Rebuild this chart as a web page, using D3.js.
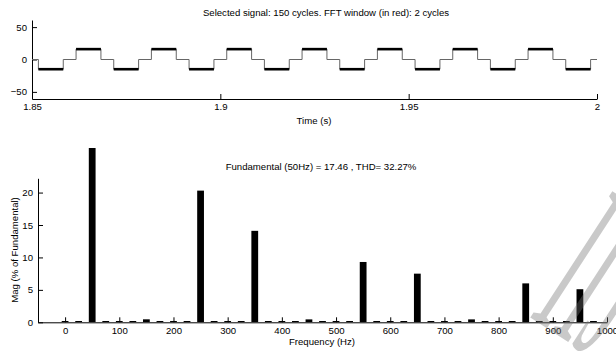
<!DOCTYPE html>
<html>
<head>
<meta charset="utf-8">
<script src="https://cdn.jsdelivr.net/npm/d3@7"></script>
<style>
html, body { margin: 0; padding: 0; background: #fff; }
svg { display: block; font-family: 'Liberation Sans', Arial, sans-serif; }
</style>
</head>
<body>
<div id="chart"></div>
<script>
// selected signal: time of each step (s) and the level held after it
const sigTimes = [
    1.85, 1.8517, 1.8583, 1.8617, 1.8683,
    1.8717, 1.8783, 1.8817, 1.8883,
    1.8917, 1.8983, 1.9017, 1.9083,
    1.9117, 1.9183, 1.9217, 1.9283,
    1.9317, 1.9383, 1.9417, 1.9483,
    1.9517, 1.9583, 1.9617, 1.9683,
    1.9717, 1.9783, 1.9817, 1.9883,
    1.9917, 1.9983, 2.0
];
const sigLevels = [
    0, -15, 0, 16, 0,
    -15, 0, 16, 0,
    -15, 0, 16, 0,
    -15, 0, 16, 0,
    -15, 0, 16, 0,
    -15, 0, 16, 0,
    -15, 0, 16, 0,
    -15, 0, 0
];
const timeTicks = [1.85, 1.9, 1.95, 2];
const sigTicks = [-50, 0, 50];

// FFT bins (Hz) and magnitude (% of fundamental)
const freqs = [
    0, 25, 50, 75, 100, 125, 150, 175, 200, 225,
    250, 275, 300, 325, 350, 375, 400, 425, 450, 475,
    500, 525, 550, 575, 600, 625, 650, 675, 700, 725,
    750, 775, 800, 825, 850, 875, 900, 925, 950, 975
];
const mags = [
    0.2, 0.2, 100, 0.2, 0.2, 0.2, 0.46, 0.2, 0.2, 0.2,
    20.3, 0.2, 0.2, 0.2, 14.1, 0.2, 0.2, 0.2, 0.45, 0.2,
    0.2, 0.2, 9.3, 0.2, 0.2, 0.2, 7.5, 0.2, 0.2, 0.2,
    0.45, 0.2, 0.2, 0.2, 6.0, 0.2, 0.2, 0.2, 5.1, 0.2
];
const freqTicks = [0, 100, 200, 300, 400, 500, 600, 700, 800, 900, 1000];
const magTicks = [0, 5, 10, 15, 20];

const W = 616, H = 351;
const fs = '9.6px';

const svg = d3.select('#chart').append('svg')
    .attr('width', W)
    .attr('height', H);

function styleAxis(g) {
    g.selectAll('path, line').attr('stroke', '#000');
    g.selectAll('text').attr('fill', '#000').style('font-size', fs);
    g.attr('font-family', null);
}

// ---- top: time signal ----
const x1 = d3.scaleLinear().domain([1.85, 2]).range([32, 597]);
const y1 = d3.scaleLinear().domain([-61, 61]).range([99, 20]);

svg.append('g')
    .attr('transform', 'translate(0,' + y1.range()[0] + ')')
    .call(d3.axisBottom(x1).tickValues(timeTicks).tickFormat(d3.format('')).tickSize(-5).tickSizeOuter(0).tickPadding(4))
    .call(styleAxis);

svg.append('g')
    .attr('transform', 'translate(' + x1.range()[0] + ',0)')
    .call(d3.axisLeft(y1).tickValues(sigTicks).tickSize(-5).tickSizeOuter(0).tickPadding(5))
    .call(styleAxis);

const sig = sigTimes.map((t, i) => ({ t: t, v: sigLevels[i] }));

svg.append('path')
    .datum(sig)
    .attr('fill', 'none')
    .attr('stroke', '#666')
    .attr('stroke-width', 1)
    .attr('d', d3.line().x(d => x1(d.t)).y(d => y1(d.v)).curve(d3.curveStepAfter));

// plateaus carry ripple, they show up as a heavy black band
const plateaus = sig.slice(0, -1).map((d, i) => ({ t0: d.t, t1: sig[i + 1].t, v: d.v }))
    .filter(d => d.v !== 0);
svg.append('g').selectAll('line')
    .data(plateaus)
    .enter()
    .append('line')
    .attr('x1', d => x1(d.t0))
    .attr('x2', d => x1(d.t1))
    .attr('y1', d => y1(d.v))
    .attr('y2', d => y1(d.v))
    .attr('stroke', '#000')
    .attr('stroke-width', 2.6);

svg.append('text')
    .attr('x', 326)
    .attr('y', 16)
    .attr('text-anchor', 'middle')
    .style('font-size', fs)
    .text('Selected signal: 150 cycles. FFT window (in red): 2 cycles');

svg.append('text')
    .attr('x', 314)
    .attr('y', 124)
    .attr('text-anchor', 'middle')
    .style('font-size', fs)
    .text('Time (s)');

// ---- bottom: FFT spectrum ----
const x2 = d3.scaleLinear().domain([-50, 1000]).range([38, 607]);
const y2 = d3.scaleLinear().domain([0, 22.2]).range([322.3, 178.3]);
const binW = 12.5;

svg.append('defs').append('clipPath')
    .attr('id', 'barclip')
    .append('rect')
    .attr('x', 0)
    .attr('y', 148)
    .attr('width', W)
    .attr('height', y2(0) - 148);

const fft = freqs.map((f, i) => ({ f: f, m: mags[i] }));

svg.append('g')
    .attr('clip-path', 'url(#barclip)')
    .selectAll('rect')
    .data(fft)
    .enter()
    .append('rect')
    .attr('x', d => x2(d.f - binW / 2))
    .attr('width', d => x2(d.f + binW / 2) - x2(d.f - binW / 2))
    .attr('y', d => y2(d.m))
    .attr('height', d => y2(0) - y2(d.m))
    .attr('fill', '#000');

svg.append('g')
    .attr('transform', 'translate(0,' + y2(0) + ')')
    .call(d3.axisBottom(x2).tickValues(freqTicks).tickFormat(d3.format('d')).tickSize(-5).tickSizeOuter(0).tickPadding(5))
    .call(styleAxis);

svg.append('g')
    .attr('transform', 'translate(' + x2.range()[0] + ',0)')
    .call(d3.axisLeft(y2).tickValues(magTicks).tickSize(-5).tickSizeOuter(0).tickPadding(5))
    .call(styleAxis);

svg.append('text')
    .attr('x', 321)
    .attr('y', 169.5)
    .attr('text-anchor', 'middle')
    .style('font-size', fs)
    .text('Fundamental (50Hz) = 17.46 , THD= 32.27%');

svg.append('text')
    .attr('x', 322)
    .attr('y', 345)
    .attr('text-anchor', 'middle')
    .style('font-size', fs)
    .text('Frequency (Hz)');

svg.append('text')
    .attr('transform', 'translate(18,250) rotate(-90)')
    .attr('text-anchor', 'middle')
    .style('font-size', fs)
    .text('Mag (% of Fundamental)');

// faint watermark in the corner
svg.append('text')
    .attr('transform', 'translate(528,316) rotate(33) scale(0.33,1)')
    .attr('font-family', "'Liberation Serif', serif")
    .style('font-size', '230px')
    .attr('fill', '#717171')
    .attr('fill-opacity', 0.38)
    .text('IIJ');
</script>
</body>
</html>
